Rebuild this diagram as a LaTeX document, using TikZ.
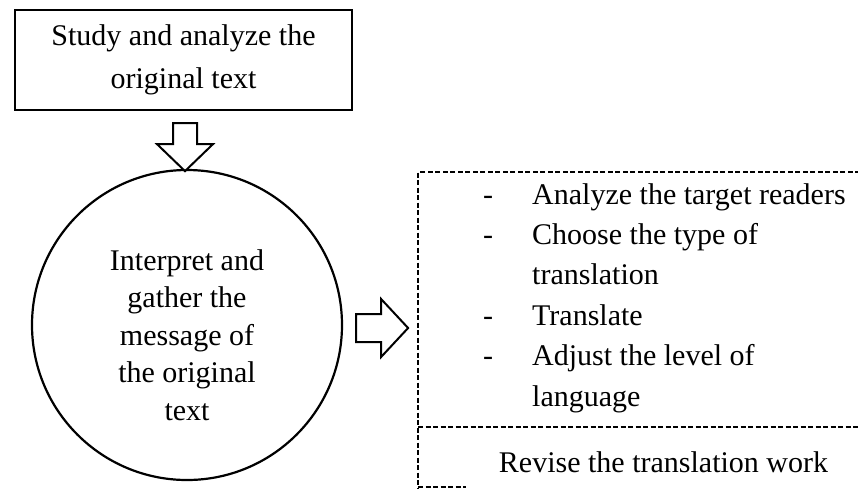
\documentclass[tikz,border=0pt]{standalone}
\usepackage{fontspec}
\setmainfont{Liberation Serif}
\begin{document}
\begin{tikzpicture}[x=1pt,y=-1pt,
  txt/.style={font=\fontsize{30}{40}\selectfont, inner sep=0pt},
  solidbox/.style={draw, line width=2.2pt, inner sep=0pt},
  blockarrow/.style={draw, line width=2pt, line join=miter, fill=white},
  dashline/.style={line width=2.2pt, dash pattern=on 5pt off 2.5pt},
  itemtext/.style={txt, anchor=base west},
  bullet/.style={txt, anchor=base}]
\useasboundingbox (0,0) rectangle (858,488);
\clip (0,0) rectangle (858,488);

% top box
\node[solidbox, minimum width=337pt, minimum height=100pt, align=center,
      font=\fontsize{30}{43}\selectfont] (study) at (183.5,60)
      {Study and analyze the\\original text};

% circle
\node[solidbox, circle, minimum size=310pt] (circ) at (187,325) {};
\node[txt, align=center, font=\fontsize{30}{37.5}\selectfont] (circtext) at (187,335)
      {Interpret and\\gather the\\message of\\the original\\text};

% down block arrow
\coordinate (dtop) at ([yshift=-12pt]study.south);
\draw[blockarrow] ([xshift=1.5pt]dtop) ++(-12,0) -- ++(24,0) -- ++(0,21) -- ++(16,0)
      -- ++(-28,27) -- ++(-28,-27) -- ++(16,0) -- cycle;

% right block arrow
\coordinate (rstart) at ([xshift=13pt,yshift=-3pt]circ.east);
\draw[blockarrow] (rstart) ++(0,-14) -- ++(25,0) -- ++(0,-15) -- ++(27,29)
      -- ++(-27,29) -- ++(0,-15) -- ++(-25,0) -- cycle;

% dashed box
\coordinate (tl) at (418,172);
\coordinate (tr) at (860,172);
\coordinate (ml) at (418,427);
\coordinate (mr) at (860,427);
\coordinate (bl) at (418,490);
\coordinate (bm) at (466,487);
\draw[dashline] (tr) -- (tl) -- (bl);
\draw[dashline] (ml) -- (mr);
\draw[line width=1.2pt, dash pattern=on 5pt off 2.5pt] (418,487) -- (bm);

% list items
\node[bullet] (b1) at (488,204) {-};
\node[itemtext] (i1) at (532,204) {Analyze the target readers};
\node[bullet] (b2) at (488,244.4) {-};
\node[itemtext] (i2) at (532,244.4) {Choose the type of};
\node[itemtext] (i2b) at (532,284.8) {translation};
\node[bullet] (b3) at (488,325.2) {-};
\node[itemtext] (i3) at (532,325.2) {Translate};
\node[bullet] (b4) at (488,365.6) {-};
\node[itemtext] (i4) at (532,365.6) {Adjust the level of};
\node[itemtext] (i4b) at (532,406) {language};

\node[txt, anchor=base] (revise) at (663.5,472) {Revise the translation work};
\end{tikzpicture}
\end{document}
